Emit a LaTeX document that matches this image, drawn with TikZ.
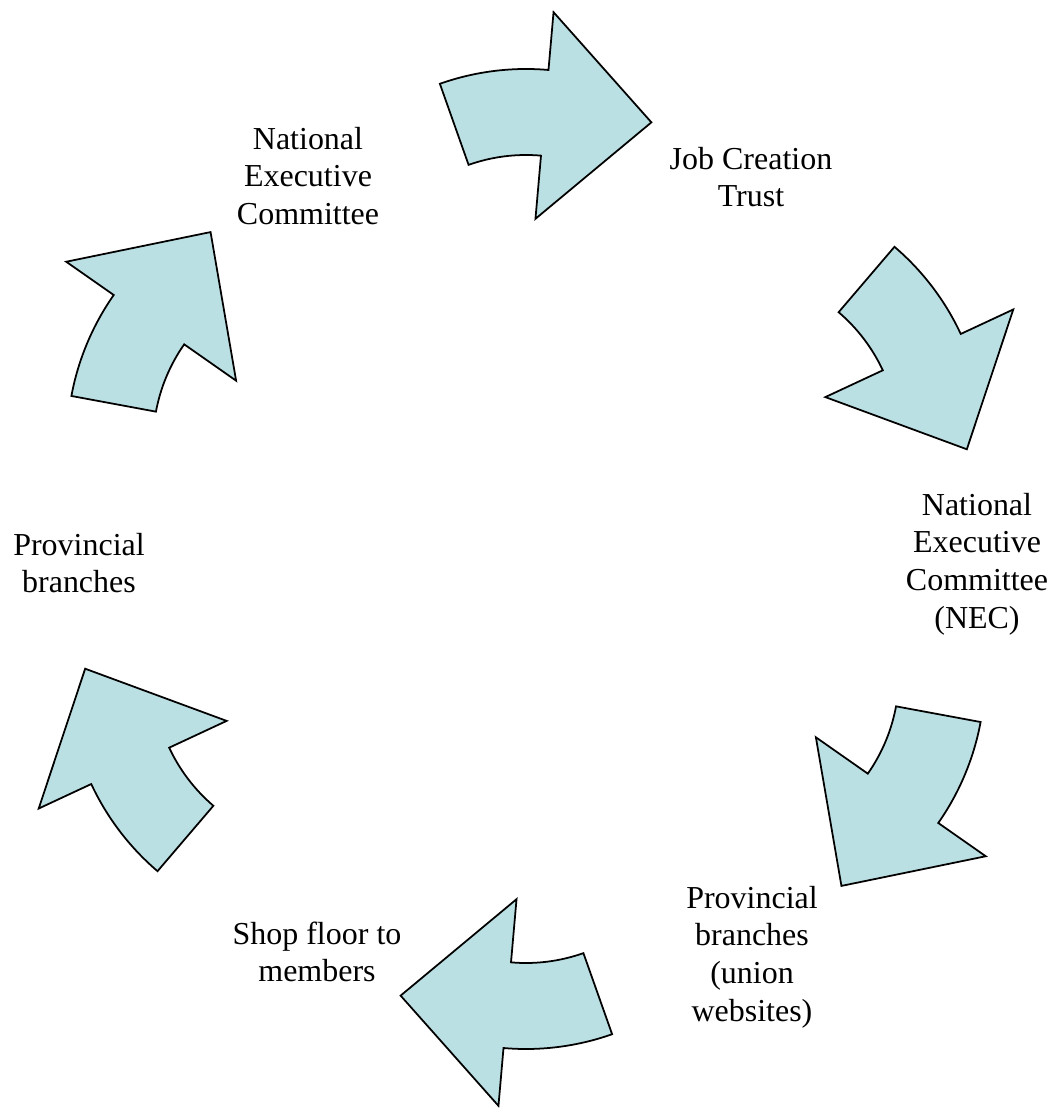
\documentclass[tikz,border=0pt]{standalone}
\usepackage{fontspec}
\setmainfont{Liberation Serif}
\definecolor{cyclefill}{RGB}{187,224,227}
\tikzset{
  cyclearrow/.style={draw=black,line width=1pt,fill=cyclefill},
  stage/.style={align=center,font=\fontsize{18.2}{21.4}\selectfont}
}

\begin{document}
\begin{tikzpicture}[x=0.02cm,y=0.02cm]
  \useasboundingbox (-526,-555) rectangle (526,559);
  % six bent arrows, turned round the middle
  \foreach \a in {0,-60,-120,-180,-240,-300}
    \draw[cyclearrow,rotate=\a,shift={(0,232)}] (109.5:258) arc[start angle=109.5,end angle=85,radius=258]
      -- (85:316) -- (58.5:240) -- (85:108.6) -- (85:172) arc[start angle=85,end angle=109.5,radius=172] -- cycle;
  \node[stage] (nec) at (-218,383) {National\\Executive\\Committee};
  \node[stage] (jct) at (225,382) {Job Creation\\Trust};
  \node[stage] (necr) at (451,-5) {National\\Executive\\Committee\\(NEC)};
  \node[stage] (provu) at (226,-398) {Provincial\\branches\\(union\\websites)};
  \node[stage] (shop) at (-209,-393) {Shop floor to\\members};
  \node[stage] (prov) at (-447,-4) {Provincial\\branches};
\end{tikzpicture}
\end{document}
